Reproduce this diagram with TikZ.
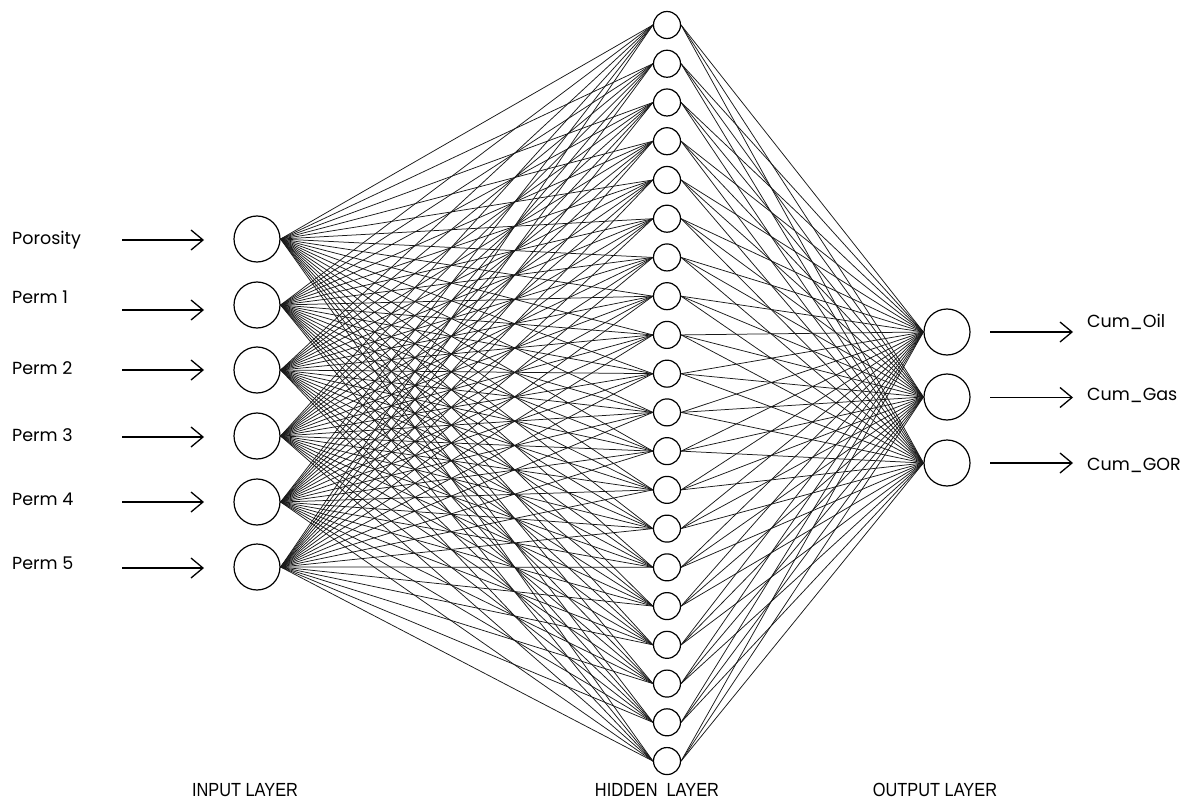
\documentclass[tikz,border=0pt]{standalone}
\usepackage{fontspec}
\setmainfont{Poppins}
\newfontfamily\capfont{Liberation Sans}
\usetikzlibrary{arrows.meta}
\begin{document}
\begin{tikzpicture}[x=1pt,y=-1pt,
  bignode/.style={circle,draw,line width=1.2pt,fill=white,inner sep=0pt,minimum size=46pt},
  smallnode/.style={circle,draw,line width=1.2pt,fill=white,inner sep=0pt,minimum size=27pt},
  link/.style={line width=0.75pt,draw=black!90},
  feed/.style={line width=1.7pt,-{Straight Barb[length=12pt,width=20pt,line width=1.3pt]}},
  varlabel/.style={anchor=west,inner sep=0pt,font=\fontsize{17.5}{20}\selectfont},
  layerlabel/.style={inner sep=0pt,font=\capfont\fontsize{19}{21}\selectfont}]
\useasboundingbox (0,0) rectangle (1189,805);
% input layer
\foreach \i/\y in {1/239,2/305,3/370,4/436,5/502,6/567}
  \node[bignode] (in\i) at (257,\y) {};
% hidden layer
\foreach \j in {1,...,20}
  \node[smallnode] (h\j) at (667,{25+(\j-1)*38.74}) {};
% output layer
\foreach \k/\y in {1/332,2/397,3/463}
  \node[bignode] (out\k) at (947,\y) {};
% connections
\foreach \i in {1,...,6}
  \foreach \j in {1,...,20}
    \draw[link] (in\i.east) -- (h\j.west);
\foreach \j in {1,...,20}
  \foreach \k in {1,...,3}
    \draw[link] (h\j.east) -- (out\k.west);
% input labels and arrows
\foreach \i/\t/\ly/\ay in {1/Porosity/240/240,2/Perm 1/297/310,3/Perm 2/368/370,4/Perm 3/435/437,5/Perm 4/499/502,6/Perm 5/563/568}{
  \node[varlabel] (lab\i) at (12,\ly) {\t};
  \coordinate (as\i) at (122,\ay);
  \coordinate (ae\i) at (204,\ay);
  \draw[feed] (as\i) -- (ae\i);
}
% output arrows and labels
\foreach \k/\t/\ly in {1/Cum\_Oil/322,2/Cum\_Gas/395,3/Cum\_GOR/465}{
  \coordinate (os\k) at (990,{332+(\k-1)*65.5});
  \coordinate (oe\k) at (1073,{332+(\k-1)*65.5});
  \draw[feed] (os\k) -- (oe\k);
  \node[varlabel] (olab\k) at (1087,\ly) {\t};
}
% layer captions
\node[layerlabel] (capin) at (245,790) {\scalebox{0.86}[1]{INPUT LAYER}};
\node[layerlabel] (caphid) at (657,790) {\scalebox{0.86}[1]{HIDDEN\ \ LAYER}};
\node[layerlabel] (capout) at (935,790) {\scalebox{0.86}[1]{OUTPUT LAYER}};
\end{tikzpicture}
\end{document}
